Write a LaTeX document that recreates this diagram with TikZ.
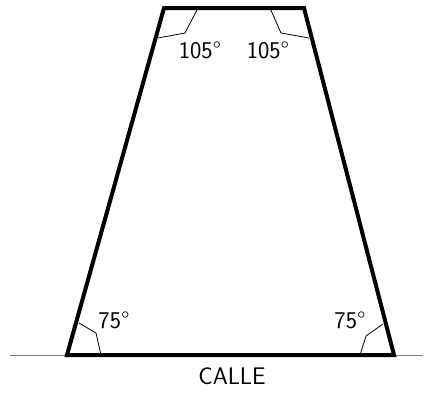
\documentclass[tikz,border=0pt]{standalone}
\usepackage{fontspec}
\usetikzlibrary{calc}

\begin{document}
\begin{tikzpicture}[x=1pt,y=-1pt,
	lot/.style={line width=4pt, line join=miter},
	anglemark/.style={line width=0.8pt},
	street/.style={gray, line width=1pt},
	lbl/.style={font=\sffamily\fontsize{24}{28}\selectfont, inner sep=0pt}]

\useasboundingbox (0,0) rectangle (426,400);

% corners of the lot
\coordinate (tl) at (164,8);
\coordinate (tr) at (304,8);
\coordinate (br) at (394,355);
\coordinate (bl) at (67,355);

% street
\coordinate (s1) at (10,355);
\coordinate (s2) at (423,355);
\draw[street] (s1) -- (s2);

\draw[lot] (tl) -- (tr) -- (br) -- (bl) -- cycle;

% angle marks
\draw[anglemark] (198,8) -- (185,33) -- (158,38);
\draw[anglemark] (270,8) -- (281,33) -- (309,38);
\draw[anglemark] (79,323) -- (96,333) -- (101,355);
\draw[anglemark] (383,324) -- (366,336) -- (360,355);

\node[lbl] (a1) at (200,50) {105°};
\node[lbl] (a2) at (268,50) {105°};
\node[lbl] (a3) at (114,320) {75°};
\node[lbl] (a4) at (350,320) {75°};
\node[lbl] (calle) at (232,376) {CALLE};

\end{tikzpicture}
\end{document}
